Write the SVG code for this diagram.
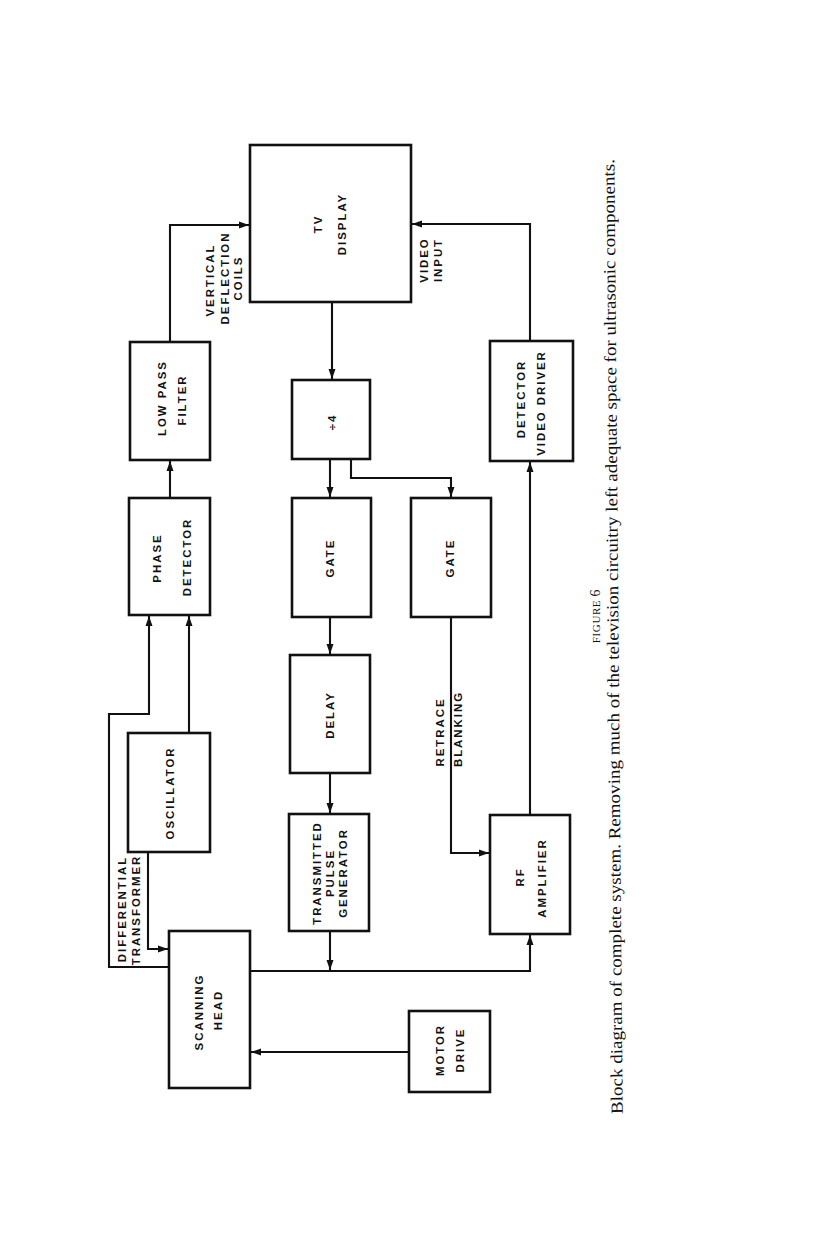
<svg xmlns="http://www.w3.org/2000/svg" width="816" height="1246" viewBox="0 0 816 1246">
<style>
.box{fill:none;stroke:#111;stroke-width:2.6}
.ln{fill:none;stroke:#111;stroke-width:2.1}
.lb{font-family:"Liberation Sans",Arial,sans-serif;font-weight:bold;font-size:11.4px;letter-spacing:2px;fill:#111;text-anchor:middle}
.cap{font-family:"Liberation Serif","Times New Roman",serif;fill:#111}
</style>
<defs>
<marker id="ah" markerUnits="userSpaceOnUse" markerWidth="11" markerHeight="9" refX="10" refY="4.5" orient="auto">
<path d="M0,1 L10,4.5 L0,8 Z" fill="#111"/>
</marker>
</defs>
<rect width="816" height="1246" fill="#fff"/>

<g id="tv-display">
<rect class="box" x="250" y="145" width="161" height="157"/>
<text class="lb" transform="translate(322,224) rotate(-90)">TV</text>
<text class="lb" transform="translate(346,224) rotate(-90)">DISPLAY</text>
</g>
<g id="low-pass-filter">
<rect class="box" x="130" y="342" width="80" height="118"/>
<text class="lb" transform="translate(166,398) rotate(-90)">LOW PASS</text>
<text class="lb" transform="translate(186,400) rotate(-90)">FILTER</text>
</g>
<g id="phase-detector">
<rect class="box" x="129" y="498" width="81" height="117"/>
<text class="lb" transform="translate(161,558) rotate(-90)">PHASE</text>
<text class="lb" transform="translate(191,557) rotate(-90)">DETECTOR</text>
</g>
<g id="oscillator">
<rect class="box" x="128" y="733" width="82" height="119"/>
<text class="lb" transform="translate(174,793) rotate(-90)">OSCILLATOR</text>
</g>
<g id="scanning-head">
<rect class="box" x="169" y="931" width="81" height="157"/>
<text class="lb" transform="translate(203,1012) rotate(-90)">SCANNING</text>
<text class="lb" transform="translate(222,1010) rotate(-90)">HEAD</text>
</g>
<g id="motor-drive">
<rect class="box" x="409" y="1011" width="81" height="81"/>
<text class="lb" transform="translate(444,1050) rotate(-90)">MOTOR</text>
<text class="lb" transform="translate(464,1050) rotate(-90)">DRIVE</text>
</g>
<g id="transmitted-pulse-generator">
<rect class="box" x="289" y="814" width="80" height="117"/>
<text class="lb" transform="translate(321,873) rotate(-90)">TRANSMITTED</text>
<text class="lb" transform="translate(334,873) rotate(-90)">PULSE</text>
<text class="lb" transform="translate(347,873) rotate(-90)">GENERATOR</text>
</g>
<g id="rf-amplifier">
<rect class="box" x="490" y="815" width="80" height="119"/>
<text class="lb" transform="translate(524,877) rotate(-90)">RF</text>
<text class="lb" transform="translate(546,878) rotate(-90)">AMPLIFIER</text>
</g>
<g id="divide-by-4">
<rect class="box" x="292" y="380" width="78" height="79"/>
<text class="lb" transform="translate(336,422) rotate(-90)" font-size="13">÷4</text>
</g>
<g id="gate-1">
<rect class="box" x="292" y="498" width="79" height="119"/>
<text class="lb" transform="translate(334,558) rotate(-90)">GATE</text>
</g>
<g id="gate-2">
<rect class="box" x="411" y="498" width="80" height="119"/>
<text class="lb" transform="translate(454,558) rotate(-90)">GATE</text>
</g>
<g id="delay">
<rect class="box" x="290" y="655" width="80" height="118"/>
<text class="lb" transform="translate(334,715) rotate(-90)">DELAY</text>
</g>
<g id="detector-video-driver">
<rect class="box" x="490" y="341" width="83" height="120"/>
<text class="lb" transform="translate(525,399) rotate(-90)">DETECTOR</text>
<text class="lb" transform="translate(545,403) rotate(-90)">VIDEO DRIVER</text>
</g>

<g id="connectors">
<path class="ln" d="M170,498 V461" marker-end="url(#ah)"/>
<path class="ln" d="M170,342 V225 H249" marker-end="url(#ah)"/>
<path class="ln" d="M189,733 V616" marker-end="url(#ah)"/>
<path class="ln" d="M169,967 H109 V714 H149 V616" marker-end="url(#ah)"/>
<path class="ln" d="M148,852 V949 H168" marker-end="url(#ah)"/>
<path class="ln" d="M409,1052 H251" marker-end="url(#ah)"/>
<path class="ln" d="M250,971 H530 V935" marker-end="url(#ah)"/>
<path class="ln" d="M330,931 V970" marker-end="url(#ah)"/>
<path class="ln" d="M332,302 V379" marker-end="url(#ah)"/>
<path class="ln" d="M330,459 V497" marker-end="url(#ah)"/>
<path class="ln" d="M351,459 V478 H451 V497" marker-end="url(#ah)"/>
<path class="ln" d="M330,617 V654" marker-end="url(#ah)"/>
<path class="ln" d="M330,773 V813" marker-end="url(#ah)"/>
<path class="ln" d="M451,617 V853 H489" marker-end="url(#ah)"/>
<path class="ln" d="M530,815 V462" marker-end="url(#ah)"/>
<path class="ln" d="M530,341 V224 H412" marker-end="url(#ah)"/>
</g>

<g id="connector-labels">
<text class="lb" transform="translate(214,280) rotate(-90)">VERTICAL</text>
<text class="lb" transform="translate(229,278) rotate(-90)">DEFLECTION</text>
<text class="lb" transform="translate(242,278) rotate(-90)">COILS</text>
<text class="lb" transform="translate(428,260) rotate(-90)">VIDEO</text>
<text class="lb" transform="translate(442,260) rotate(-90)">INPUT</text>
<text class="lb" transform="translate(126,909) rotate(-90)">DIFFERENTIAL</text>
<text class="lb" transform="translate(140,910) rotate(-90)">TRANSFORMER</text>
<text class="lb" transform="translate(444,732) rotate(-90)">RETRACE</text>
<text class="lb" transform="translate(462,729) rotate(-90)">BLANKING</text>
</g>

<g id="caption">
<text class="cap" transform="translate(600,616) rotate(-90)" text-anchor="middle" font-size="11" letter-spacing="0.6">FIGURE <tspan font-size="14">6</tspan></text>
<text class="cap" transform="translate(618.5,636.5) rotate(-90.5)" text-anchor="middle" font-size="17" textLength="955" lengthAdjust="spacingAndGlyphs">Block diagram of complete system. Removing much of the television circuitry left adequate space for ultrasonic components.</text>
</g>
</svg>
